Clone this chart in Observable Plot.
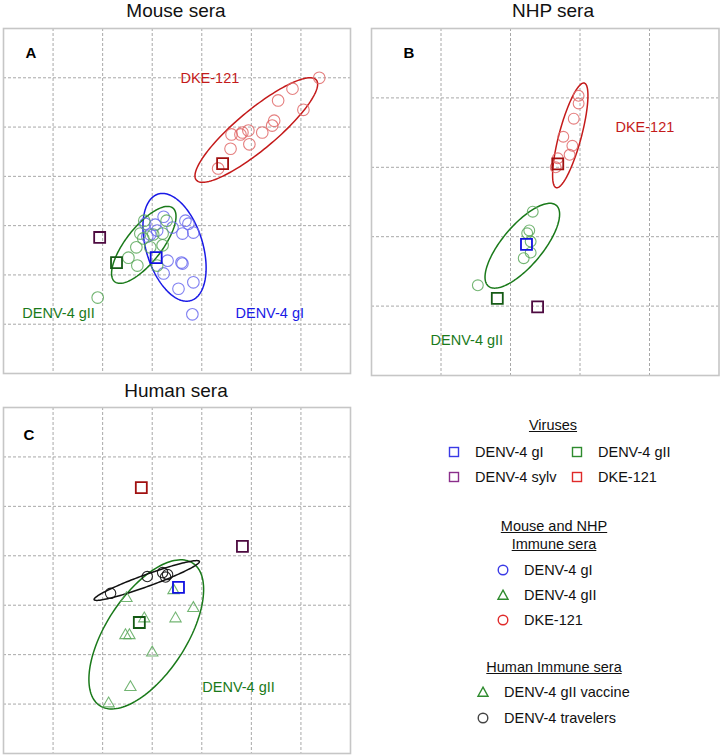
<!DOCTYPE html>
<html>
<head>
<meta charset="utf-8">
<script src="https://cdn.jsdelivr.net/npm/d3@7"></script>
<script src="https://cdn.jsdelivr.net/npm/@observablehq/plot@0.6"></script>
<style>
  html, body { margin: 0; padding: 0; background: #fff; }
  #wrap { position: relative; width: 720px; height: 756px; font-family: "Liberation Sans", Arial, sans-serif; color: #111; }
  .abs { position: absolute; }
  .title { font-size: 19px; line-height: 19px; white-space: nowrap; transform: translateX(-50%); }
  .lh { font-size: 14.5px; line-height: 18px; text-decoration: underline; text-align: center; white-space: nowrap; transform: translate(-50%, -50%); }
  .li { font-size: 14.5px; line-height: 16px; white-space: nowrap; transform: translateY(-50%); }
  .sym { transform: translate(-50%, -50%); overflow: visible; }
</style>
</head>
<body>
<div id="wrap"></div>
<script>
// ---------- Data (antigenic units; x right, y up) ----------
const gridA = [1, 2, 3, 4, 5, 6];
const gridB = [1, 2, 3, 4];
const gridC = [1, 2, 3, 4, 5, 6];

// Panel A: mouse sera
const mouseDKE = [[6.37,6.00],[5.83,5.78],[5.54,5.54],[6.05,5.35],[5.46,5.13],[5.42,5.03],[5.22,4.89],[4.94,4.93],[4.82,4.89],[4.78,4.85],[4.60,4.85],[4.96,4.65],[4.58,4.56],[4.33,4.16]];
const mouseGI = [[3.23,3.18],[3.06,3.02],[2.86,3.04],[3.67,3.10],[3.73,3.04],[3.41,2.96],[3.10,2.90],[2.96,2.82],[2.90,2.78],[3.61,2.84],[3.83,2.86],[3.31,2.29],[3.59,2.25],[3.61,2.23],[3.23,2.03],[3.83,1.85],[3.53,1.72],[3.81,1.20]];
const mouseGII = [[2.84,3.10],[2.76,2.84],[2.82,2.74],[3.02,2.82],[3.21,2.84],[3.29,3.10],[2.68,2.56],[3.21,2.60],[2.96,2.56],[2.52,2.35],[2.70,2.19],[3.10,2.19],[1.90,1.54]];
const mouseViruses = [["DKE-121",4.42,4.26],["DENV-4 gI",3.08,2.35],["DENV-4 gII",2.28,2.25],["DENV-4 sylv",1.94,2.76]];
// ellipses: [group, cx, cy, semi-major, semi-minor, angle deg]
const mouseEllipses = [["DKE-121",5.10,4.94,1.58,0.40,40],["DENV-4 gI",3.45,2.56,1.13,0.57,107],["DENV-4 gII",2.83,2.61,0.95,0.36,52]];

// Panel B: NHP sera
const nhpDKE = [[2.98,4.03],[2.98,3.92],[2.91,3.70],[2.76,3.44],[2.89,3.31],[2.85,3.18],[2.68,3.13],[2.65,3.00]];
const nhpGII = [[2.32,2.36],[2.24,2.05],[2.27,2.09],[2.29,1.93],[2.29,1.77],[2.19,1.69],[1.53,1.30]];
const nhpViruses = [["DKE-121",2.68,3.05],["DENV-4 gI",2.23,1.89],["DENV-4 gII",1.81,1.11],["DENV-4 sylv",2.39,0.99]];
const nhpEllipses = [["DKE-121",2.86,3.46,0.78,0.16,75],["DENV-4 gII",2.17,1.87,0.76,0.29,50]];

// Panel C: human sera
const humanVaccine = [[2.48,3.14],[3.43,3.30],[3.83,2.94],[3.47,2.73],[2.84,2.73],[2.46,2.39],[2.54,2.39],[3.00,2.04],[2.56,1.34],[2.12,1.01]];
const humanTravelers = [[2.16,3.24],[2.90,3.58],[3.21,3.66],[3.27,3.57],[3.31,3.62]];
const humanViruses = [["DKE-121",2.78,5.38],["DENV-4 sylv",4.82,4.19],["DENV-4 gI",3.53,3.36],["DENV-4 gII",2.74,2.65]];
const humanEllipses = [["DENV-4 gII",2.88,2.41,1.72,0.81,57],["travelers",2.89,3.50,1.13,0.12,20]];

// annotation labels: [text, group, x, y]
const labelsA = [["DKE-121","DKE-121",3.57,5.98],["DENV-4 gII","DENV-4 gII",0.38,1.22],["DENV-4 gI","DENV-4 gI",4.68,1.22]];
const labelsB = [["DKE-121","DKE-121",3.51,3.57],["DENV-4 gII","DENV-4 gII",0.85,0.50]];
const labelsC = [["DENV-4 gII","DENV-4 gII",4.01,1.33]];

// ---------- Styles ----------
const ellipseColor = {"DKE-121":"#c41a1a","DENV-4 gI":"#1a1ae6","DENV-4 gII":"#1a7a1a","travelers":"#111"};
const serumColor = {"DKE-121":"#e06868","DENV-4 gI":"#6a6aee","DENV-4 gII":"#5aa85a"};
const virusColor = {"DKE-121":"#a01010","DENV-4 gI":"#1010e0","DENV-4 gII":"#145a14","DENV-4 sylv":"#4d0a40"};

const pts = (arr) => arr.map(([x, y]) => ({x, y}));
function ellipsePath([g, cx, cy, a, b, deg]) {
  const th = deg * Math.PI / 180, out = [];
  for (let i = 0; i <= 144; i++) {
    const t = 2 * Math.PI * i / 144;
    out.push({g, x: cx + a * Math.cos(th) * Math.cos(t) - b * Math.sin(th) * Math.sin(t),
                 y: cy + a * Math.sin(th) * Math.cos(t) + b * Math.cos(th) * Math.sin(t)});
  }
  return out;
}
function ellipseMarks(list) {
  return list.map(e => Plot.line(ellipsePath(e), {x: "x", y: "y", stroke: ellipseColor[e[0]], strokeWidth: 1.5}));
}
function serumDots(arr, group, symbol = "circle", r = 5.8) {
  return Plot.dot(pts(arr), {x: "x", y: "y", r, symbol, stroke: serumColor[group], strokeWidth: 1.1, fill: "none", strokeOpacity: 0.85});
}
function virusDots(list) {
  return Plot.dot(list.map(([g, x, y]) => ({g, x, y})), {x: "x", y: "y", symbol: "square", r: 6.2, fill: "none", stroke: d => virusColor[d.g], strokeWidth: 1.8});
}
function labelMarks(list) {
  return Plot.text(list.map(([t, g, x, y]) => ({t, g, x, y})), {x: "x", y: "y", text: "t", fill: d => ellipseColor[d.g], textAnchor: "start", lineAnchor: "middle", fontSize: 14.5});
}
function base(grid) {
  return [
    Plot.ruleX(grid, {stroke: "#a8a8a8", strokeDasharray: "3,2", strokeWidth: 1}),
    Plot.ruleY(grid, {stroke: "#a8a8a8", strokeDasharray: "3,2", strokeWidth: 1}),
    Plot.frame({stroke: "#c6c6c6", strokeWidth: 1.6})
  ];
}
function letter(t, dx, dy) {
  return Plot.text([t], {frameAnchor: "top-left", text: d => d, dx, dy, fontSize: 15, fontWeight: "bold", fill: "#000", textAnchor: "start", lineAnchor: "bottom"});
}

const common = {style: {fontFamily: "Liberation Sans, Arial, sans-serif", background: "transparent", overflow: "visible"}};

const plotA = Plot.plot({
  ...common, width: 360, height: 380, marginLeft: 3, marginRight: 10, marginTop: 28, marginBottom: 7,
  x: {domain: [0, 7], axis: null}, y: {domain: [0, 7], axis: null},
  marks: [
    ...base(gridA),
    letter("A", 22, 29),
    ...ellipseMarks(mouseEllipses),
    serumDots(mouseDKE, "DKE-121"),
    serumDots(mouseGI, "DENV-4 gI"),
    serumDots(mouseGII, "DENV-4 gII"),
    virusDots(mouseViruses),
    labelMarks(labelsA)
  ]
});

const plotB = Plot.plot({
  ...common, width: 360, height: 380, marginLeft: 11, marginRight: 1.5, marginTop: 28, marginBottom: 5,
  x: {domain: [0, 5], axis: null}, y: {domain: [0, 5], axis: null},
  marks: [
    ...base(gridB),
    letter("B", 32, 29),
    ...ellipseMarks(nhpEllipses),
    serumDots(nhpDKE, "DKE-121", "circle", 5.4),
    serumDots(nhpGII, "DENV-4 gII", "circle", 5.4),
    virusDots(nhpViruses),
    labelMarks(labelsB)
  ]
});

const plotC = Plot.plot({
  ...common, width: 360, height: 376, marginLeft: 3, marginRight: 10, marginTop: 27, marginBottom: 3,
  x: {domain: [0, 7], axis: null}, y: {domain: [0, 7], axis: null},
  marks: [
    ...base(gridC),
    letter("C", 20, 32),
    ...ellipseMarks(humanEllipses),
    serumDots(humanVaccine, "DENV-4 gII", "triangle", 4.2),
    Plot.dot(pts(humanTravelers), {x: "x", y: "y", r: 5.2, stroke: "#111", strokeWidth: 1.1, fill: "none", strokeOpacity: 0.9}),
    virusDots(humanViruses),
    labelMarks(labelsC)
  ]
});

const wrap = document.getElementById("wrap");
function place(el, left, top) { el.style.position = "absolute"; el.style.left = left + "px"; el.style.top = top + "px"; wrap.appendChild(el); }
place(plotA, 0, 0);
place(plotB, 360, 0);
place(plotC, 0, 380);

function div(cls, text, left, top) {
  const d = document.createElement("div"); d.className = "abs " + cls; d.innerHTML = text;
  d.style.left = left + "px"; d.style.top = top + "px"; wrap.appendChild(d); return d;
}
div("title", "Mouse sera", 176, 1);
div("title", "NHP sera", 553, 1);
div("title", "Human sera", 176, 381);

// ---------- Legend ----------
const legendVirusNames = ["DENV-4 gI", "DENV-4 gII", "DENV-4 sylv", "DKE-121"];
const legendVirusColors = ["#3a3ae6", "#2e8b2e", "#8b2e8b", "#e02a2a"];
const legendAnimalNames = ["DENV-4 gI", "DENV-4 gII", "DKE-121"];
const legendAnimalSymbols = ["circle", "triangle", "circle"];
const legendAnimalColors = ["#3a3ae6", "#2e8b2e", "#e02a2a"];
const legendHumanNames = ["DENV-4 gII vaccine", "DENV-4 travelers"];
const legendHumanSymbols = ["triangle", "circle"];
const legendHumanColors = ["#2e8b2e", "#444"];

function sym(type, color, cx, cy) {
  const s = document.createElementNS("http://www.w3.org/2000/svg", "svg");
  s.setAttribute("width", 14); s.setAttribute("height", 14);
  s.setAttribute("class", "abs sym");
  s.style.left = cx + "px"; s.style.top = cy + "px";
  let sh;
  if (type === "square") { sh = document.createElementNS(s.namespaceURI, "rect"); sh.setAttribute("x", 2.5); sh.setAttribute("y", 2.5); sh.setAttribute("width", 9); sh.setAttribute("height", 9); }
  else if (type === "circle") { sh = document.createElementNS(s.namespaceURI, "circle"); sh.setAttribute("cx", 7); sh.setAttribute("cy", 7); sh.setAttribute("r", 4.8); }
  else { sh = document.createElementNS(s.namespaceURI, "path"); sh.setAttribute("d", "M7,2.2L12,11.2L2,11.2Z"); }
  sh.setAttribute("fill", "none"); sh.setAttribute("stroke", color); sh.setAttribute("stroke-width", 1.4);
  s.appendChild(sh); wrap.appendChild(s);
}

div("lh", "Viruses", 553, 425);
[[454, 452, 475], [577, 452, 598], [454, 477, 475], [577, 477, 598]].forEach(([sx, sy, tx], i) => {
  sym("square", legendVirusColors[i], sx, sy);
  div("li", legendVirusNames[i], tx, sy);
});
div("lh", "Mouse and NHP<br>Immune sera", 554, 535);
legendAnimalNames.forEach((n, i) => {
  const y = [569.5, 595, 620][i];
  sym(legendAnimalSymbols[i], legendAnimalColors[i], 503, y);
  div("li", n, 524, y);
});
div("lh", "Human Immune sera", 554, 667);
legendHumanNames.forEach((n, i) => {
  const y = [692, 718][i];
  sym(legendHumanSymbols[i], legendHumanColors[i], 483, y);
  div("li", n, 504, y);
});
</script>
</body>
</html>
